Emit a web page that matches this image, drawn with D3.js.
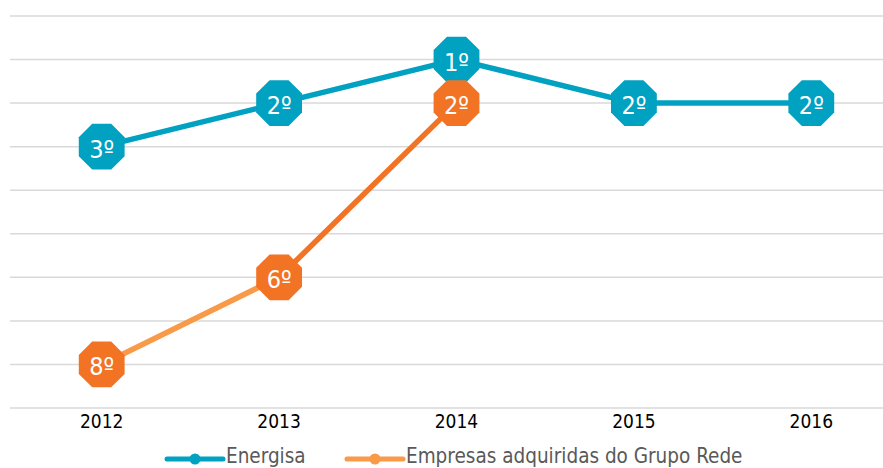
<!DOCTYPE html>
<html>
<head>
<meta charset="utf-8">
<script src="https://cdn.jsdelivr.net/npm/d3@7"></script>
<style>
  body { margin: 0; background: #fff; }
  svg text { font-family: "DejaVu Sans Condensed", "DejaVu Sans", sans-serif; }
</style>
</head>
<body>
<svg id="chart" width="883" height="468"></svg>
<script>
// DATA
var years = ["2012", "2013", "2014", "2015", "2016"];
var energisa = [3, 2, 1, 2, 2];
var rede = [8, 6, 2, null, null];
var gridRanks = [0, 1, 2, 3, 4, 5, 6, 7, 8, 9];
var seriesNames = ["Energisa", "Empresas adquiridas do Grupo Rede"];

var BLUE = "#00A1C1";
var ORANGE = "#F37324";
var ORANGE_LIGHT = "#F89A48";

var svg = d3.select("#chart");

var x = d3.scaleBand().domain(years).range([13, 900]);
var y = d3.scaleLinear().domain([0, 9]).range([16, 408]);

function cx(i) { return x(years[i]) + x.bandwidth() / 2; }

// gridlines
svg.append("g").selectAll("line")
    .data(gridRanks)
    .enter()
    .append("line")
    .attr("x1", 10)
    .attr("x2", 883)
    .attr("y1", function(d){ return y(d); })
    .attr("y2", function(d){ return y(d); })
    .attr("stroke", "#d9d9d9")
    .attr("stroke-width", 1.5);

// x axis labels
var xAxis = d3.axisBottom(x).tickSize(0).tickPadding(7);
var gx = svg.append("g")
    .attr("transform", "translate(0," + y(9) + ")")
    .call(xAxis);
gx.select(".domain").remove();
gx.selectAll("text")
    .attr("font-size", 19)
    .attr("fill", "#000")
    .style("font-family", "'DejaVu Sans Condensed', 'DejaVu Sans', sans-serif");

// octagon path
var R = 24.8;
function octagon(px, py) {
    var pts = [];
    for (var k = 0; k < 8; k++) {
        var a = Math.PI / 8 + k * Math.PI / 4;
        pts.push([px + R * Math.cos(a), py + R * Math.sin(a)]);
    }
    return "M" + pts.join("L") + "Z";
}

function drawSeries(values, segColors, fill) {
    var g = svg.append("g");
    var pts = [];
    values.forEach(function(v, i){ if (v != null) pts.push({i: i, v: v}); });

    for (var k = 0; k < pts.length - 1; k++) {
        g.append("line")
            .attr("x1", cx(pts[k].i)).attr("y1", y(pts[k].v))
            .attr("x2", cx(pts[k+1].i)).attr("y2", y(pts[k+1].v))
            .attr("stroke", segColors[k])
            .attr("stroke-width", 5.5)
            .attr("stroke-linecap", "round");
    }

    var m = g.selectAll(".marker")
        .data(pts)
        .enter()
        .append("g")
        .attr("class", "marker");
    m.append("path")
        .attr("d", function(d){ return octagon(cx(d.i), y(d.v)); })
        .attr("fill", fill);
    m.append("text")
        .attr("x", function(d){ return cx(d.i); })
        .attr("y", function(d){ return y(d.v) + 11; })
        .attr("text-anchor", "middle")
        .attr("font-size", 25)
        .attr("fill", "#fff")
        .text(function(d){ return d.v + "º"; });
}

drawSeries(energisa, [BLUE, BLUE, BLUE, BLUE], BLUE);
drawSeries(rede, [ORANGE_LIGHT, ORANGE], ORANGE);

// legend
var legend = [
    {name: seriesNames[0], color: BLUE, x: 167},
    {name: seriesNames[1], color: ORANGE_LIGHT, x: 347}
];
var lg = svg.append("g").selectAll("g")
    .data(legend)
    .enter()
    .append("g")
    .attr("transform", function(d){ return "translate(" + d.x + ",459)"; });
lg.append("line")
    .attr("x1", 0).attr("x2", 56)
    .attr("stroke", function(d){ return d.color; })
    .attr("stroke-width", 5)
    .attr("stroke-linecap", "round");
lg.append("circle")
    .attr("cx", 28).attr("r", 5.5)
    .attr("fill", function(d){ return d.color; });
lg.append("text")
    .attr("x", 59)
    .attr("y", 4)
    .attr("font-size", 20.5)
    .attr("fill", "#595959")
    .text(function(d){ return d.name; });
</script>
</body>
</html>
